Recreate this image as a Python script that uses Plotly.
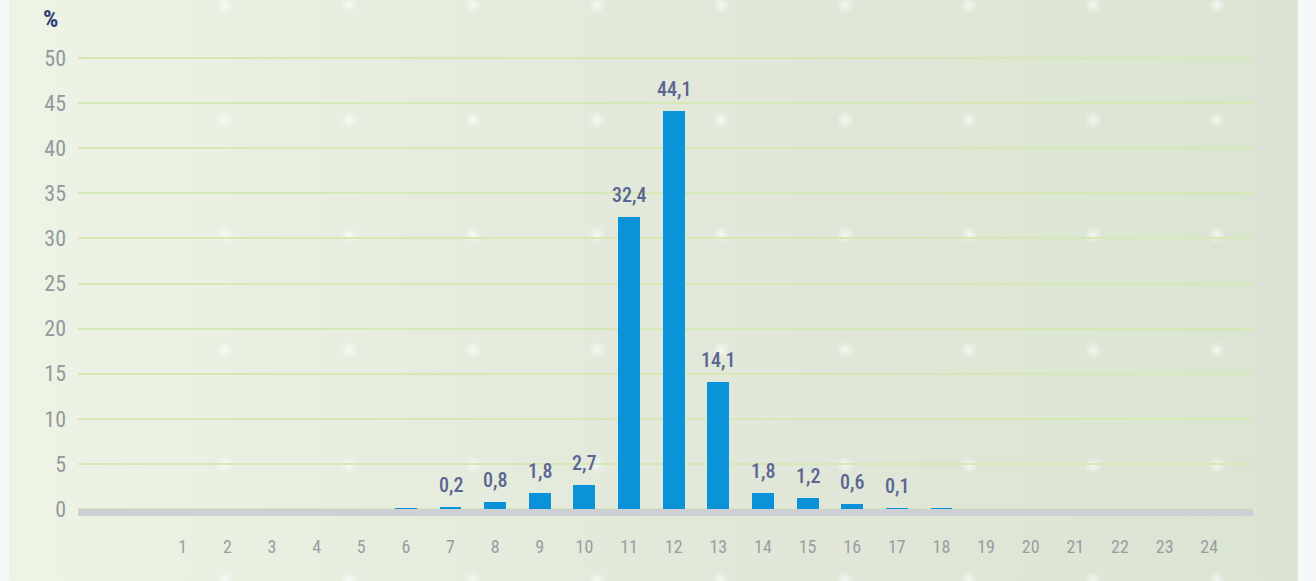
import base64
import plotly.graph_objects as go

# ---- data ----
categories = list(range(1, 25))
values = [0, 0, 0, 0, 0, 0.1, 0.2, 0.8, 1.8, 2.7, 32.4, 44.1, 14.1, 1.8, 1.2, 0.6, 0.1, 0.1,
          0, 0, 0, 0, 0, 0]
labels = ["", "", "", "", "", "", "0,2", "0,8", "1,8", "2,7", "32,4", "44,1", "14,1", "1,8",
          "1,2", "0,6", "0,1", "", "", "", "", "", "", ""]
y_ticks = [0, 5, 10, 15, 20, 25, 30, 35, 40, 45, 50]
x_ticklabels = [str(c) for c in categories]

W, H = 1316, 581
L, R, T, B = 78, 63, 40, 61
PW, PH = W - L - R, H - T - B

FONT = "Roboto Condensed, Roboto, sans-serif"

dots = ""
for dx in range(225, 1300, 124):
    for dy in range(5, 600, 115):
        dots += f'<circle cx="{dx}" cy="{dy}" r="9" fill="url(#dot)"/>'
svg = f'''<svg xmlns="http://www.w3.org/2000/svg" width="{W}" height="{H}" viewBox="0 0 {W} {H}">
<defs>
<linearGradient id="g" x1="0" y1="0" x2="1" y2="0">
<stop offset="0" stop-color="#edf4e6"/>
<stop offset="0.5" stop-color="#e2e8da"/>
<stop offset="1" stop-color="#dbe4d2"/>
</linearGradient>
<radialGradient id="dot"><stop offset="0" stop-color="#ffffff" stop-opacity="0.7"/>
<stop offset="0.45" stop-color="#ffffff" stop-opacity="0.35"/>
<stop offset="1" stop-color="#ffffff" stop-opacity="0"/></radialGradient>
</defs>
<rect x="0" y="0" width="{W}" height="{H}" fill="#f7f8fa"/>
<rect x="9" y="0" width="1289" height="{H}" fill="url(#g)"/>
{dots}
</svg>'''
src = "data:image/svg+xml;base64," + base64.b64encode(svg.encode()).decode()

fig = go.Figure()
fig.add_trace(go.Bar(
    x=categories, y=values, width=0.49,
    marker=dict(color="#0a93d9", line=dict(width=0)),
    hoverinfo="x+y",
))

annotations = []
for c, v, t in zip(categories, values, labels):
    if t:
        annotations.append(dict(x=c, y=v, xref="x", yref="y", text=t, showarrow=False,
                                yanchor="bottom", yshift=8,
                                font=dict(family=FONT, size=20, color="#5a6591", weight=500)))
annotations.append(dict(x=(50 - L) / PW, y=1 + (T - 19) / PH, xref="paper", yref="paper",
                        text="%", showarrow=False, xanchor="center", yanchor="middle",
                        font=dict(family=FONT, size=24, color="#2f3d75", weight=700)))

px_per_unit = 9.02
y_lo = -(520 - 509) / px_per_unit
y_hi = (509 - 40) / px_per_unit

fig.update_layout(
    width=W, height=H,
    margin=dict(l=L, r=R, t=T, b=B, pad=0),
    paper_bgcolor="#f7f8fa", plot_bgcolor="rgba(0,0,0,0)",
    showlegend=False, bargap=0,
    images=[dict(source=src, xref="paper", yref="paper", x=-L / PW, y=1 + T / PH,
                 sizex=W / PW, sizey=H / PH, sizing="stretch", xanchor="left",
                 yanchor="top", layer="below")],
    annotations=annotations,
    shapes=[dict(type="rect", xref="paper", yref="y", x0=0, x1=1, y0=0, y1=-7 / px_per_unit,
                 fillcolor="#cfd0d5", line=dict(width=0))],
    xaxis=dict(range=[-1.346, 24.98], tickmode="array", tickvals=categories,
               ticktext=x_ticklabels, showgrid=False, zeroline=False, showline=False,
               ticks="", ticklabelstandoff=14,
               tickfont=dict(family=FONT, size=18, color="#9a9da1")),
    yaxis=dict(range=[y_lo, y_hi], tickmode="array", tickvals=y_ticks,
               ticktext=[str(v) for v in y_ticks], showgrid=True, gridcolor="#d5e9b6",
               gridwidth=1.5, zeroline=False, showline=False, ticks="",
               ticklabelstandoff=11,
               tickfont=dict(family=FONT, size=22, color="#95989d")),
)

fig.write_html("out.html", config={"displayModeBar": False},
               post_script="document.body.style.margin='0';document.body.style.overflow='hidden';")
